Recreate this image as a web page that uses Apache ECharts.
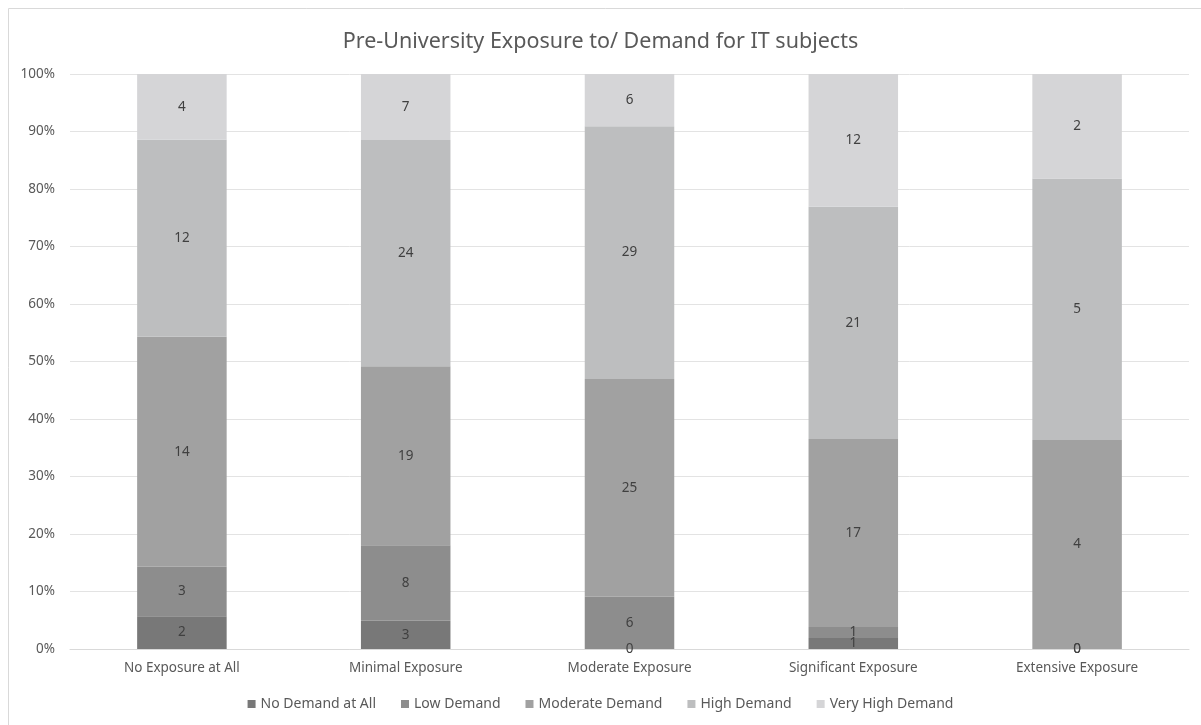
<!DOCTYPE html>
<html><head><meta charset="utf-8">
<script src="https://cdn.jsdelivr.net/npm/echarts@6/dist/echarts.min.js"></script>
<style>html,body{margin:0;padding:0;background:#fff}#c{width:1201px;height:725px}</style>
</head><body><div id="c"></div>
<script>
const categories = ['No Exposure at All','Minimal Exposure','Moderate Exposure','Significant Exposure','Extensive Exposure'];
const seriesNames = ['No Demand at All','Low Demand','Moderate Demand','High Demand','Very High Demand'];
const noDemand = [2,3,0,1,0];
const lowDemand = [3,8,6,1,0];
const moderateDemand = [14,19,25,17,4];
const highDemand = [12,24,29,21,5];
const veryHighDemand = [4,7,6,12,2];
const yTicks = [0,10,20,30,40,50,60,70,80,90,100];
const colors = ['#787878','#8d8d8d','#a1a1a1','#bdbebf','#d5d5d7'];

const raw = [noDemand,lowDemand,moderateDemand,highDemand,veryHighDemand];
const totals = categories.map((_,i)=>raw.reduce((s,a)=>s+a[i],0));
const FONT = 'Noto Sans';
const chart = echarts.init(document.getElementById('c'));
chart.setOption({
  animation:false,
  textStyle:{fontFamily:FONT},
  title:{text:'Pre-University Exposure to/ Demand for IT subjects',left:'center',top:26,
    textStyle:{fontSize:21.5,fontWeight:'normal',color:'#595959',fontFamily:FONT}},
  graphic:[{type:'rect',shape:{x:8.5,y:8.5,width:1300,height:800},style:{fill:'none',stroke:'#d9d9d9',lineWidth:1},silent:true}],
  grid:{left:70,right:12,top:74,bottom:76},
  legend:{bottom:9,left:'center',itemWidth:8,itemHeight:8,itemGap:25,icon:'rect',
    textStyle:{fontSize:14,color:'#595959',fontFamily:FONT},data:seriesNames},
  xAxis:{type:'category',data:categories,
    axisLine:{lineStyle:{color:'#d9d9d9'}},axisTick:{show:false},
    axisLabel:{color:'#595959',fontSize:13.5,margin:12,fontFamily:FONT}},
  yAxis:{type:'value',min:0,max:100,interval:10,
    axisLabel:{formatter:v=>yTicks.includes(v)?v+'%':'',color:'#595959',fontSize:13.5,margin:15,fontFamily:FONT},
    splitLine:{lineStyle:{color:'#e3e3e3'}},axisLine:{show:false},axisTick:{show:false}},
  series: raw.map((arr,si)=>({
    name:seriesNames[si],type:'bar',stack:'total',barWidth:'40%',
    itemStyle:{color:colors[si]},
    data:arr.map((v,i)=>({value:v/totals[i]*100,raw:v})),
    label:{show:true,position:'inside',color:'#404040',fontSize:13.5,fontFamily:FONT,
      formatter:p=>String(arr[p.dataIndex])}
  }))
});
</script></body></html>
